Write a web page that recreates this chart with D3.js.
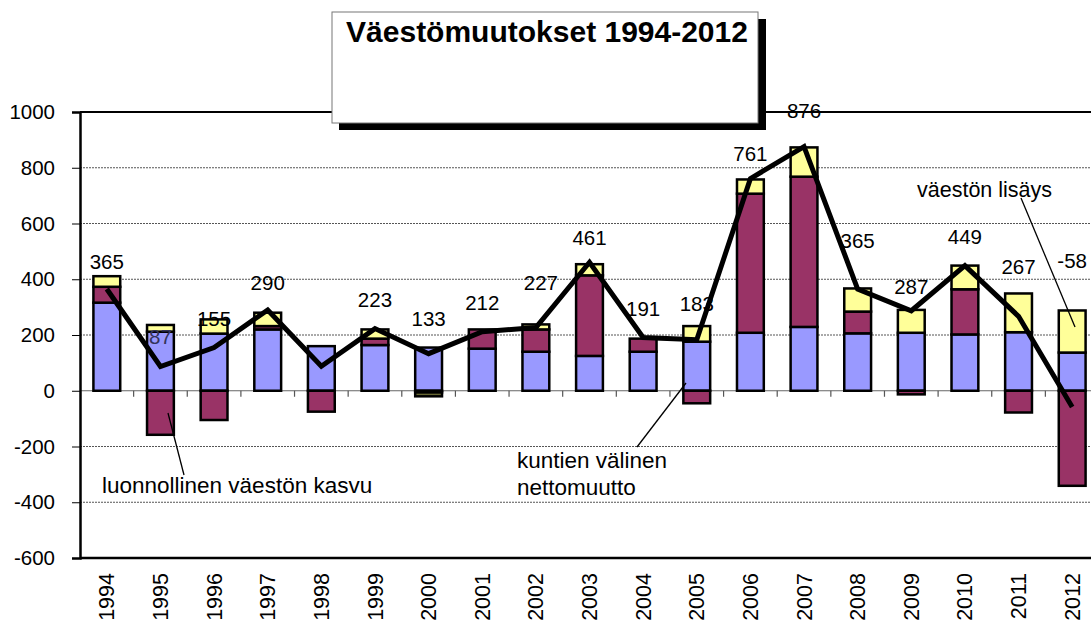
<!DOCTYPE html>
<html>
<head>
<meta charset="utf-8">
<script src="https://cdn.jsdelivr.net/npm/d3@7"></script>
<style>
	body { margin: 0; background: #fff; }
	svg { display: block; }
	text { font-family: "Liberation Sans", Arial, sans-serif; fill: #000; }
</style>
</head>
<body>
<main></main>
<script>
// values
const years = [1994,1995,1996,1997,1998,1999,2000,2001,2002,2003,2004,2005,2006,2007,2008,2009,2010,2011,2012];
const blueSeries   = [316,212,205,220,160,164,155,151,140,125,140,176,208,229,206,208,202,210,137];
const maroonSeries = [57,-158,-105,12,-75,23,-6,69,80,289,47,-45,499,539,78,-13,162,-78,-341];
const yellowSeries = [38,24,51,48,0,33,0,0,18,40,0,56,51,105,83,82,85,139,151];
const oliveSeries  = [0,0,0,0,0,0,-14,0,0,0,0,0,0,0,0,0,0,0,0];
const totals = [365,87,155,290,88,223,133,212,227,461,191,183,761,876,365,287,449,267,-58];
const totalLabels = ["365","87","155","290","","223","133","212","227","461","191","183","761","876","365","287","449","267","-58"];
const yTicks = [-600,-400,-200,0,200,400,600,800,1000];

const w = 1091, h = 622,
	plotLeft = 80, plotRight = 1099, plotTop = 112, plotBottom = 558;

const keys = ["blue","maroon","yellow","olive"];
const colors = {blue:"#9999ff", maroon:"#993366", yellow:"#ffff99", olive:"#666633"};

const table = years.map((y,i) => ({
	year: y,
	blue: blueSeries[i],
	maroon: maroonSeries[i],
	yellow: yellowSeries[i],
	olive: oliveSeries[i],
	total: totals[i],
	label: totalLabels[i]
}));

const stacked = d3.stack().keys(keys).offset(d3.stackOffsetDiverging)(table);

const xScale = d3.scaleBand()
	.domain(years)
	.range([plotLeft, plotRight])
	.paddingInner(0.5)
	.paddingOuter(0.25);

const yScale = d3.scaleLinear()
	.domain([-600, 1000])
	.range([plotBottom, plotTop]);

const cx = (y) => xScale(y) + xScale.bandwidth()/2;

const svg = d3.select("main")
	.append("svg")
	.attr("width", w)
	.attr("height", h);

// gridlines
svg.append("g")
	.selectAll("line")
	.data(yTicks.filter(t => t !== 0 && t !== 1000 && t !== -600))
	.enter()
	.append("line")
	.attr("x1", plotLeft)
	.attr("x2", plotRight)
	.attr("y1", d => yScale(d))
	.attr("y2", d => yScale(d))
	.attr("stroke", "#555")
	.attr("stroke-width", 1)
	.attr("stroke-dasharray", "2,1");

// zero line with category ticks
const y0 = yScale(0);
svg.append("line")
	.attr("x1", plotLeft).attr("x2", plotRight)
	.attr("y1", y0).attr("y2", y0)
	.attr("stroke", "#666").attr("stroke-width", 1.2);

svg.append("g")
	.selectAll("line")
	.data(years.slice(1))
	.enter()
	.append("line")
	.attr("x1", d => cx(d) - xScale.step()/2)
	.attr("x2", d => cx(d) - xScale.step()/2)
	.attr("y1", y0)
	.attr("y2", y0 + 6)
	.attr("stroke", "#555")
	.attr("stroke-width", 1.2);

// stacked bars
svg.append("g")
	.selectAll("g")
	.data(stacked)
	.enter()
	.append("g")
	.attr("fill", d => colors[d.key])
	.selectAll("rect")
	.data(d => d.filter(s => s[1] - s[0] !== 0))
	.enter()
	.append("rect")
	.attr("x", d => xScale(d.data.year))
	.attr("width", xScale.bandwidth())
	.attr("y", d => yScale(d[1]))
	.attr("height", d => yScale(d[0]) - yScale(d[1]))
	.attr("stroke", "#000")
	.attr("stroke-width", 2.5);

// total line
const line = d3.line()
	.x(d => cx(d.year))
	.y(d => yScale(d.total));

svg.append("path")
	.datum(table)
	.attr("d", line)
	.attr("fill", "none")
	.attr("stroke", "#000")
	.attr("stroke-width", 5)
	.attr("stroke-linejoin", "miter");

// labels of the line; some were moved by hand in the original
const labelGap = {1994:20, 1997:20, 2000:28, 2002:37, 2003:17, 2005:29, 2006:18, 2007:29, 2008:41, 2009:17, 2011:42, 2012:139};
svg.append("g")
	.selectAll("text")
	.data(table.filter(d => d.label !== ""))
	.enter()
	.append("text")
	.attr("x", d => cx(d.year) + (d.year === 2002 ? 5 : 0))
	.attr("y", d => yScale(d.total) - (labelGap[d.year] || 22))
	.attr("text-anchor", "middle")
	.style("font-size", "20.5px")
	.style("fill", d => d.year === 1995 ? "#33335a" : "#000")
	.text(d => d.label);

// plot frame
svg.append("line")
	.attr("x1", plotLeft).attr("x2", plotRight)
	.attr("y1", plotTop).attr("y2", plotTop)
	.attr("stroke", "#000").attr("stroke-width", 2);
svg.append("line")
	.attr("x1", plotLeft).attr("x2", plotRight)
	.attr("y1", plotBottom).attr("y2", plotBottom)
	.attr("stroke", "#000").attr("stroke-width", 2.5);

// y axis
const yAxis = d3.axisLeft(yScale)
	.tickValues(yTicks)
	.tickFormat(d => String(d))
	.tickSize(8)
	.tickPadding(17);
const ya = svg.append("g")
	.attr("transform", "translate(" + plotLeft + ",0)")
	.call(yAxis);
ya.select(".domain").attr("stroke", "#000").attr("stroke-width", 2.5);
ya.selectAll(".tick line").attr("stroke", "#000");
ya.selectAll(".tick text")
	.style("font-size", "20.5px")
	.style("font-family", "'Liberation Sans', Arial, sans-serif")
	.attr("fill", "#000");

// x labels
svg.append("g")
	.selectAll("text")
	.data(years)
	.enter()
	.append("text")
	.attr("transform", d => "translate(" + cx(d) + ",573) rotate(-90)")
	.attr("text-anchor", "end")
	.attr("dy", "0.35em")
	.style("font-size", "21.5px")
	.text(d => d);

// annotations with leader lines
const leaders = [
	{x1:184, y1:475, x2:168, y2:413},
	{x1:637, y1:447, x2:686, y2:383},
	{x1:1021, y1:198, x2:1075, y2:327}
];
svg.append("g")
	.selectAll("line")
	.data(leaders)
	.enter()
	.append("line")
	.attr("x1", d => d.x1).attr("y1", d => d.y1)
	.attr("x2", d => d.x2).attr("y2", d => d.y2)
	.attr("stroke", "#000")
	.attr("stroke-width", 1.3);

svg.append("text")
	.attr("x", 102).attr("y", 493)
	.style("font-size", "22.5px")
	.text("luonnollinen väestön kasvu");

const kt = svg.append("text")
	.attr("x", 517).attr("y", 468)
	.style("font-size", "22.5px");
kt.append("tspan").attr("x", 517).text("kuntien välinen");
kt.append("tspan").attr("x", 517).attr("dy", 27).text("nettomuutto");

svg.append("text")
	.attr("x", 917).attr("y", 197)
	.style("font-size", "21.5px")
	.text("väestön lisäys");

// title box
svg.append("rect")
	.attr("x", 339).attr("y", 19)
	.attr("width", 427).attr("height", 111)
	.attr("fill", "#000");
svg.append("rect")
	.attr("x", 332).attr("y", 12)
	.attr("width", 426).attr("height", 111)
	.attr("fill", "#fff")
	.attr("stroke", "#777")
	.attr("stroke-width", 1);
svg.append("text")
	.attr("x", 547).attr("y", 42)
	.attr("text-anchor", "middle")
	.style("font-size", "30px")
	.style("font-weight", "bold")
	.text("Väestömuutokset 1994-2012");
</script>
</body>
</html>
